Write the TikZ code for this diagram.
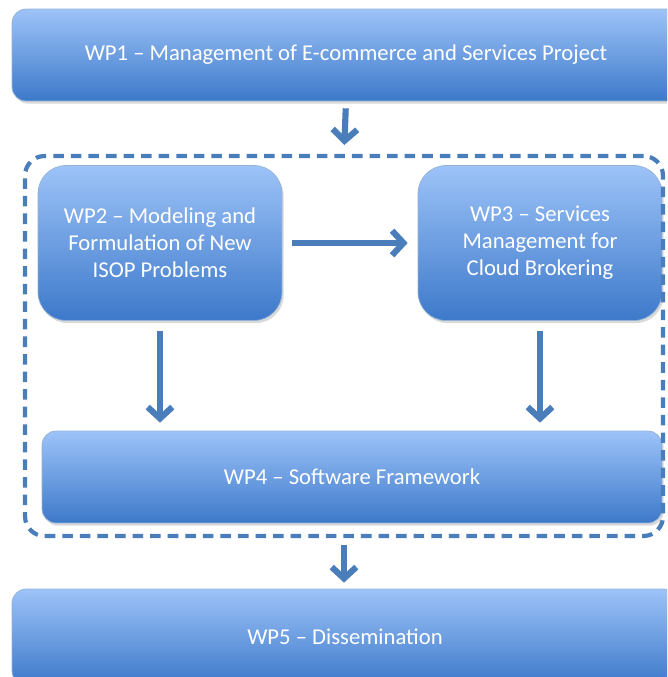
\documentclass[tikz,border=0pt]{standalone}
\usepackage{fontspec}
\setmainfont{Carlito}
\usetikzlibrary{arrows.meta,shadows}

\definecolor{wpblue}{HTML}{4A7EBB}
\definecolor{wptop}{HTML}{9DC3F8}
\definecolor{wpbot}{HTML}{3D79CA}

\tikzset{
  wpbox/.style={draw=wpblue!60, line width=0.4pt, rounded corners=8pt,
    top color=wptop, bottom color=wpbot, text=white, align=center,
    font=\fontsize{12.9}{15.3}\selectfont, inner sep=0pt,
    drop shadow={opacity=0.3, shadow xshift=1pt, shadow yshift=-1.5pt}},
  wparrow/.style={wpblue, line width=3.5pt, -{Straight Barb[length=6.5pt,width=14pt]}},
}

\begin{document}
\begin{tikzpicture}[x=0.02cm, y=-0.02cm]
\useasboundingbox (0,0) rectangle (667,677);
\clip (0,0) rectangle (667,677);

% work packages
\node[wpbox, minimum width=13.36cm, minimum height=1.84cm] (wp1) at (346,55)
  {WP1 -- Management of E-commerce and Services Project};
\node[wpbox, rounded corners=16pt, minimum width=4.88cm, minimum height=3.1cm] (wp2) at (160,243)
  {WP2 -- Modeling and\\Formulation of New\\ISOP Problems};
\node[wpbox, rounded corners=16pt, minimum width=4.88cm, minimum height=3.1cm] (wp3) at (540,243)
  {WP3 -- Services\\Management for\\Cloud Brokering};
\node[wpbox, minimum width=12.4cm, minimum height=1.84cm] (wp4) at (352,477)
  {WP4 -- Software Framework};
\node[wpbox, minimum width=13.32cm, minimum height=1.92cm] (wp5) at (345,637)
  {WP5 -- Dissemination};

% dashed group round WP2--WP4
\node[draw=wpblue, line width=2.4pt, dash pattern=on 6pt off 4pt, rounded corners=11pt,
  minimum width=12.76cm, minimum height=7.6cm, inner sep=0pt] (wpgroup) at (344,346) {};

% arrows
\draw[wparrow, shorten <=0.14cm, shorten >=0.18cm] (wp1.south) -- (wpgroup.north);
\draw[wparrow, shorten <=0.2cm, shorten >=0.2cm] (wp2.east) -- (wp3.west);
\draw[wparrow, shorten <=0.2cm, shorten >=0.16cm] (wp2.south) -- (wp2.south |- wp4.north);
\draw[wparrow, shorten <=0.2cm, shorten >=0.16cm] (wp3.south) -- (wp3.south |- wp4.north);
\draw[wparrow, shorten <=0.14cm, shorten >=0.12cm] (wpgroup.south) -- (wpgroup.south |- wp5.north);

\end{tikzpicture}
\end{document}
